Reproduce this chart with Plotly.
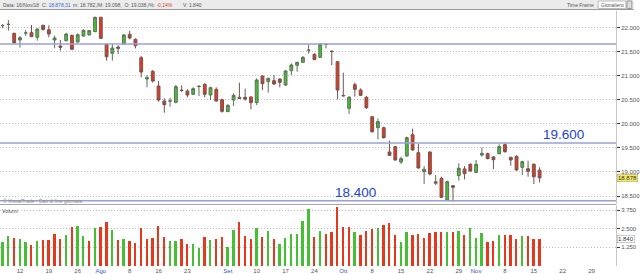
import pandas as pd
import plotly.graph_objects as go

# ---------------- data ----------------
holidays = ["2018-08-15"]
dates = [d for d in pd.bdate_range("2018-07-09", "2018-11-16") if d.strftime("%Y-%m-%d") not in holidays]

opens = [22040, 22065, 21882, 21744, 21887, 21896, 21799, 22049, 21958, 21744,
         21619, 21730, 21841, 21702, 21827, 21848, 21917, 22215, 21654, 21466,
         21598, 21660, 21861, 21757, 21376, 20933, 21092, 20787, 20475, 20473,
         20448, 20700, 20683, 20614, 20775, 20822, 20600, 20718, 20503, 20254,
         20496, 20552, 20552, 20559, 20441, 20995, 20877, 20898, 20933, 20808,
         21106, 21217, 21279, 21527, 21446, 21383, 21652, 21510, 21293, 20588,
         20323, 20815, 20704, 20552, 20150, 19921, 19921, 19415, 19526, 19207,
         19332, 19776, 19401, 19006, 19415, 18764, 18868, 18417, 18715, 18923,
         19062, 19159, 18992, 19353, 19381, 19311, 19381, 19568, 19304, 19325,
         19096, 19069, 19159, 19038]
highs = [22076, 22159, 21896, 21827, 21951, 22055, 21986, 22062, 22049, 21834,
         21744, 21882, 21854, 21882, 21965, 21951, 22229, 22229, 21674, 21674,
         21633, 21868, 21938, 21778, 21411, 21016, 21120, 20891, 20531, 20545,
         20808, 20801, 20718, 20760, 20801, 20843, 20773, 20760, 20524, 20406,
         20635, 20857, 20732, 20572, 20947, 21009, 20961, 21016, 20947, 21120,
         21258, 21293, 21411, 21647, 21466, 21674, 21667, 21529, 21307, 21064,
         20579, 20857, 20739, 20579, 20164, 20115, 19942, 19651, 19540, 19318,
         19734, 19900, 19581, 19124, 19429, 18937, 18902, 18819, 18729, 19180,
         19124, 19180, 19249, 19512, 19401, 19332, 19575, 19595, 19318, 19346,
         19235, 19235, 19180, 19098]
lows = [21986, 21938, 21660, 21584, 21827, 21810, 21730, 21938, 21799, 21570,
        21522, 21716, 21536, 21688, 21813, 21841, 21910, 21771, 21314, 21314,
        21453, 21647, 21757, 21570, 20967, 20760, 20857, 20462, 20233, 20358,
        20427, 20663, 20552, 20600, 20579, 20552, 20496, 20462, 20233, 20247,
        20371, 20517, 20482, 20302, 20392, 20704, 20649, 20808, 20760, 20787,
        21016, 21085, 21272, 21459, 21328, 21376, 21570, 21224, 20510, 20566,
        20205, 20566, 20579, 20309, 19817, 19678, 19692, 19332, 19235, 19166,
        19318, 19443, 19069, 18750, 18930, 18729, 18466, 18403, 18383, 18819,
        18847, 19006, 18972, 19318, 19263, 19062, 19367, 19401, 19131, 19027,
        18937, 18902, 18750, 18782]
closes = [22045, 22070, 21688, 21792, 21890, 21813, 21972, 21965, 21868, 21785,
          21591, 21868, 21550, 21854, 21945, 21938, 22215, 21778, 21397, 21577,
          21570, 21848, 21785, 21626, 21078, 20961, 20891, 20496, 20399, 20477,
          20773, 20695, 20600, 20732, 20782, 20614, 20753, 20475, 20261, 20385,
          20593, 20531, 20517, 20441, 20912, 20836, 20947, 20829, 20863, 21099,
          21224, 21279, 21383, 21532, 21335, 21660, 21656, 21505, 20704, 20584,
          20552, 20718, 20593, 20337, 19838, 20046, 19713, 19346, 19249, 19277,
          19713, 19457, 19083, 19055, 18958, 18798, 18473, 18798, 18681, 19076,
          18965, 19020, 19159, 19387, 19277, 19255, 19526, 19422, 19249, 19041,
          19214, 19013, 18902, 18878.31]
volumes = [1580, 2030, 1900, 1790, 1610, 1430, 1700, 1740, 1760, 2170,
           1830, 2080, 2630, 2660, 2030, 1650, 2540, 2610, 2970, 2410,
           1720, 1810, 1670, 1540, 2520, 1790, 1900, 2680, 1940, 1650,
           1670, 1810, 1450, 1470, 1180, 1920, 1740, 1830, 1960, 1290,
           2410, 2970, 2030, 1810, 2520, 1940, 2320, 1810, 1450, 1900,
           2170, 2170, 3010, 3790, 1920, 2340, 2120, 2280, 3970, 2630,
           2630, 2250, 2100, 2370, 2480, 2570, 2720, 2900, 2100, 1610,
           2250, 2050, 2120, 1850, 2190, 2280, 2250, 2280, 2280, 2340,
           2050, 2520, 1900, 2210, 1630, 1700, 2100, 2080, 2080, 1810,
           2010, 2030, 1830, 1840]

tick_dates = ["2018-07-12", "2018-07-19", "2018-07-26", "2018-08-01", "2018-08-08",
              "2018-08-16", "2018-08-23", "2018-09-03", "2018-09-10", "2018-09-17",
              "2018-09-24", "2018-10-01", "2018-10-08", "2018-10-15", "2018-10-22",
              "2018-10-29", "2018-11-01", "2018-11-08", "2018-11-15", "2018-11-22",
              "2018-11-29"]
tick_labels = ["12", "19", "26", "Ago", "8", "16", "23", "Set", "10", "17", "24",
               "Ott", "8", "15", "22", "29", "Nov", "8", "15", "22", "29"]
month_labels = ["Ago", "Set", "Ott", "Nov"]

price_ticks = [18500, 19000, 19500, 20000, 20500, 21000, 21500, 22000]
volume_ticks = [1250, 2500, 3750]
levels = [21660, 19600, 18400]
level_labels = {19600: "19.600", 18400: "18.400"}
last_close = 18878.31
last_volume = 1840

assert len(dates) == len(opens) == len(highs) == len(lows) == len(closes) == len(volumes)

# ---------------- styling helpers ----------------
W_PLOT = 622.0
TOP, BOTTOM = 11.0, 266.0
H = BOTTOM - TOP


def px_x(px):
    return px / W_PLOT


def px_y(py):
    return (BOTTOM - py) / H


RED = "#e4391d"
GREEN = "#45c035"
BLUE_LBL = "#2244cc"
LEVEL_COL = "#9aa0d4"
FONT = "Liberation Sans, Arial, sans-serif"
GRID_DASH = "1px,2px"

xs = [d + pd.Timedelta(hours=12) for d in dates]
tickvals = [pd.Timestamp(t) + pd.Timedelta(hours=12) for t in tick_dates]
ticktext = [f'<span style="color:#3552c4">{t}</span>' if t in month_labels else t for t in tick_labels]

vol_colors = []
for i, c in enumerate(closes):
    prev = closes[i - 1] if i > 0 else opens[i]
    vol_colors.append(GREEN if c >= prev else RED)

fig = go.Figure()
fig.add_trace(go.Candlestick(
    x=xs, open=opens, high=highs, low=lows, close=closes,
    xaxis="x", yaxis="y",
    increasing=dict(fillcolor=GREEN, line=dict(color="#5f6f5a", width=1)),
    decreasing=dict(fillcolor=RED, line=dict(color="#6f5550", width=1)),
    whiskerwidth=0, showlegend=False, hoverinfo="skip",
))
fig.add_trace(go.Bar(
    x=xs, y=volumes, xaxis="x2", yaxis="y2",
    marker=dict(color=vol_colors, line=dict(width=0)),
    width=0.32 * 86400000, showlegend=False, hoverinfo="skip",
))

rb = [dict(bounds=["sat", "mon"]), dict(values=holidays)]
x_range = ["2018-07-09 01:00", "2018-12-05 17:30"]

price_dom = [px_y(204.0), 1.0]
vol_dom = [0.0, px_y(205.0)]
p_per_px = 1 / 0.0481
price_range = [22000 - (204 - 27.67) * p_per_px, 22000 + (27.67 - TOP) * p_per_px]
vol_range = [0, (BOTTOM - 205.0) / 14.93 * 1000]

axis_font = dict(family=FONT, size=6, color="#555555")

fig.update_layout(
    width=640, height=274,
    margin=dict(l=0, r=18, t=11, b=8),
    paper_bgcolor="white", plot_bgcolor="white",
    separators=",.",
    font=dict(family=FONT),
    bargap=0,
    xaxis=dict(domain=[0, 1], anchor="y", range=x_range, rangebreaks=rb,
               showticklabels=False, showgrid=False, zeroline=False,
               rangeslider=dict(visible=False), fixedrange=True),
    xaxis2=dict(domain=[0, 1], anchor="y2", matches="x", range=x_range, rangebreaks=rb,
                tickmode="array", tickvals=tickvals, ticktext=ticktext,
                tickfont=axis_font, ticks="", showgrid=False, zeroline=False,
                rangeslider=dict(visible=False)),
    yaxis=dict(domain=price_dom, anchor="x", side="right", range=price_range,
               tickmode="array", tickvals=price_ticks, tickformat=",.0f",
               tickfont=axis_font, ticks="outside", ticklen=3, tickcolor="#333333",
               showgrid=True, gridcolor="#bdbdbd", griddash=GRID_DASH, gridwidth=1,
               showline=True, linecolor="#c8c8c8", linewidth=1, zeroline=False),
    yaxis2=dict(domain=vol_dom, anchor="x2", side="right", range=vol_range,
                tickmode="array", tickvals=volume_ticks, tickformat=",.0f",
                tickfont=axis_font, ticks="outside", ticklen=3, tickcolor="#333333",
                showgrid=True, gridcolor="#bdbdbd", griddash=GRID_DASH, gridwidth=1,
                showline=True, linecolor="#c8c8c8", linewidth=1, zeroline=False),
)

shapes = []
# header toolbar
shapes.append(dict(type="rect", xref="paper", yref="paper", x0=0, x1=px_x(640),
                   y0=px_y(9.5), y1=px_y(0), fillcolor="#ececec", line=dict(width=0), layer="above"))
shapes.append(dict(type="line", xref="paper", yref="paper", x0=0, x1=px_x(640),
                   y0=px_y(9.5), y1=px_y(9.5), line=dict(color="#9a9a9a", width=1), layer="above"))
shapes.append(dict(type="rect", xref="paper", yref="paper", x0=px_x(604), x1=px_x(632),
                   y0=px_y(8.5), y1=px_y(1), fillcolor="white", line=dict(color="#bdbdbd", width=1), layer="above"))
shapes.append(dict(type="rect", xref="paper", yref="paper", x0=px_x(633), x1=px_x(638),
                   y0=px_y(8.5), y1=px_y(1), fillcolor="#dcdcdc", line=dict(color="#9a9a9a", width=1), layer="above"))
# pane separator
shapes.append(dict(type="line", xref="paper", yref="paper", x0=0, x1=1,
                   y0=px_y(204.5), y1=px_y(204.5), line=dict(color="#a8a8a8", width=1)))
# support / resistance levels
for lv in levels:
    shapes.append(dict(type="line", xref="paper", yref="y", x0=0, x1=1, y0=lv, y1=lv,
                       line=dict(color=LEVEL_COL, width=1.5)))
fig.update_layout(shapes=shapes)

ann = []
hdr_font = dict(family=FONT, size=5, color="#555555")
ann.append(dict(text="Data: 16/Nov/18", x=px_x(1), y=px_y(4.8), xref="paper", yref="paper",
                xanchor="left", yanchor="middle", showarrow=False, font=hdr_font))
ann.append(dict(text='C: <span style="color:#3a63d8">18.878,31</span>', x=px_x(40), y=px_y(4.8),
                xref="paper", yref="paper", xanchor="left", yanchor="middle", showarrow=False, font=hdr_font))
ann.append(dict(text='m: 18.782,/M: 19.098,  O: 19.038,/%: <span style="color:#e0402a">-0,14%</span>',
                x=px_x(72), y=px_y(4.8), xref="paper", yref="paper", xanchor="left", yanchor="middle",
                showarrow=False, font=hdr_font))
ann.append(dict(text="V: 1.840", x=px_x(183), y=px_y(4.8), xref="paper", yref="paper",
                xanchor="left", yanchor="middle", showarrow=False, font=hdr_font))
ann.append(dict(text="Time Frame", x=px_x(570), y=px_y(4.8), xref="paper", yref="paper",
                xanchor="left", yanchor="middle", showarrow=False, font=hdr_font))
ann.append(dict(text="Gionaliero", x=px_x(618), y=px_y(4.8), xref="paper", yref="paper",
                xanchor="center", yanchor="middle", showarrow=False, font=hdr_font))
# level labels
for lv, lbl in level_labels.items():
    xc = 569 if lv == 19600 else 358.5
    ann.append(dict(text=lbl, x=px_x(xc), y=lv, xref="paper", yref="y", xanchor="center",
                    yanchor="bottom", yshift=-1, showarrow=False,
                    font=dict(family=FONT, size=13.5, color=BLUE_LBL)))
# watermark and pane title
ann.append(dict(text="© VisualTrade - Dati di fine giornata", x=px_x(1), y=px_y(201), xref="paper",
                yref="paper", xanchor="left", yanchor="middle", showarrow=False,
                font=dict(family=FONT, size=5, color="#8a8a8a")))
ann.append(dict(text="Volumi", x=px_x(0.5), y=px_y(210.5), xref="paper", yref="paper",
                xanchor="left", yanchor="middle", showarrow=False,
                font=dict(family=FONT, size=5.3, color="#555555")))
# last-value boxes on axes
ann.append(dict(text=f"{last_close:,.3f}"[:6].replace(",", "."), x=1, y=last_close, xref="paper", yref="y",
                xanchor="left", yanchor="middle", xshift=1, showarrow=False, bgcolor="#f7ea5a",
                bordercolor="#9a9a9a", borderwidth=0.5, borderpad=0.5,
                font=dict(family=FONT, size=6, color="#333333")))
ann.append(dict(text="1.840", x=1, y=last_volume, xref="paper", yref="y2",
                xanchor="left", yanchor="middle", xshift=1, showarrow=False, bgcolor="white",
                bordercolor="#9a9a9a", borderwidth=0.5, borderpad=0.5,
                font=dict(family=FONT, size=6, color="#333333")))
fig.update_layout(annotations=ann)

fig.write_html("out.html")
